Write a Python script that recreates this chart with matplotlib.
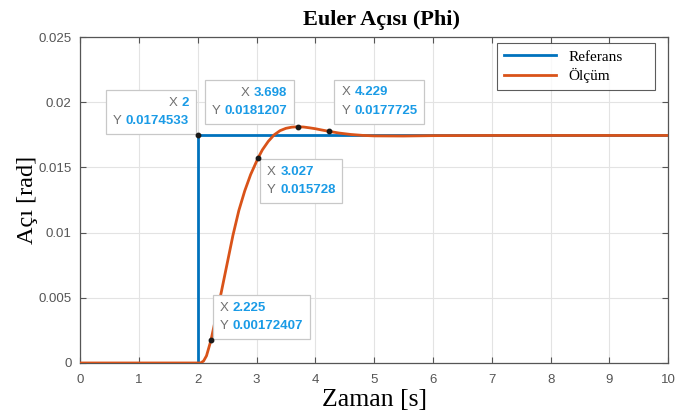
import matplotlib
matplotlib.use("Agg")
import matplotlib.pyplot as plt
from matplotlib.offsetbox import TextArea, HPacker, VPacker, AnnotationBbox

# reference step
t_ref = [0, 2, 2, 10]
y_ref = [0, 0, 0.0174533, 0.0174533]

t_mea = [0, 2.0, 2.05, 2.1, 2.15, 2.225, 2.3, 2.4, 2.5, 2.6, 2.7, 2.8, 2.9, 3.027,
         3.1, 3.2, 3.3, 3.4, 3.5, 3.6, 3.698, 3.8, 3.9, 4.0, 4.1, 4.229, 4.4,
         4.6, 4.8, 5.0, 5.5, 6.0, 7.0, 10.0]
y_mea = [0, 0, 0.0, 0.00015, 0.00055, 0.00172407, 0.0033, 0.0054, 0.0076, 0.0098,
         0.0117, 0.0132, 0.01445, 0.015728, 0.01635, 0.0170, 0.0175, 0.01782, 0.01800,
         0.01809, 0.0181207, 0.01810, 0.01804, 0.01797, 0.01788, 0.0177725, 0.01764,
         0.01753, 0.01746, 0.01742, 0.01741, 0.01744, 0.017453, 0.017453]

# data tips: x, y, "X" value text, "Y" value text, box corner, offset (points), text align
tips = [
    (2.0, 0.0174533, "2", "0.0174533", (1, 0), (-1.5, 0.8), "right"),
    (3.698, 0.0181207, "3.698", "0.0181207", (1, 0), (-2.5, 2.2), "right"),
    (4.229, 0.0177725, "4.229", "0.0177725", (0, 0), (4.0, 5.5), "left"),
    (3.027, 0.015728, "3.027", "0.015728", (0, 1), (1.5, -0.8), "left"),
    (2.225, 0.00172407, "2.225", "0.00172407", (0, 0), (1.5, 0.8), "left"),
]

blue = "#0072BD"
orange = "#D95319"
tipblue = "#1A9BE6"

fig = plt.figure(figsize=(6.84, 4.12), dpi=100)
ax = fig.add_axes([0.117, 0.119, 0.860, 0.791])

ax.plot(t_ref, y_ref, color=blue, lw=2.0, label="Referans", zorder=3)
ax.plot(t_mea, y_mea, color=orange, lw=2.0, label="Ölçüm", zorder=3)

ax.set_xlim(0, 10)
ax.set_ylim(0, 0.025)
ax.set_xticks(range(0, 11))
ax.set_yticks([0, 0.005, 0.01, 0.015, 0.02, 0.025])
ax.set_yticklabels(["0", "0.005", "0.01", "0.015", "0.02", "0.025"])
ax.grid(True, color="#e3e3e3", lw=0.8)
ax.set_axisbelow(True)
ax.tick_params(direction="in", top=True, right=True, length=4, width=0.8,
               colors="#555555", labelsize=9.5, labelfontfamily="Liberation Sans")
ax.tick_params(axis="x", pad=8)
ax.tick_params(axis="y", pad=6)
for sp in ax.spines.values():
    sp.set_color("#555555")
    sp.set_linewidth(0.9)

ax.set_title("Euler Açısı (Phi)", fontfamily="Liberation Serif", fontweight="bold",
             fontsize=16, pad=9, x=0.513)
ax.set_xlabel("Zaman [s]", fontfamily="Liberation Serif", fontsize=18.5, labelpad=2)
ax.set_ylabel("Açı [rad]", fontfamily="Liberation Serif", fontsize=17.5, labelpad=0)

leg = ax.legend(loc="upper left", bbox_to_anchor=(0.709, 0.844, 0.269, 0.138),
                mode="expand", frameon=True, fancybox=False,
                prop={"family": "Liberation Serif", "size": 11},
                handlelength=3.4, handletextpad=0.8, borderpad=0.45,
                labelspacing=0.3, borderaxespad=0)
leg.get_frame().set_edgecolor("#333333")
leg.get_frame().set_linewidth(0.8)

for x, y, xs, ys, corner, off, align in tips:
    ax.plot([x], [y], "o", color="#1a1a1a", ms=3.2, zorder=6)
    lines = []
    for lab, val in (("X", xs), ("Y", ys)):
        a = TextArea(lab, textprops=dict(color="#707070", fontsize=9.5,
                                         fontfamily="Liberation Sans"))
        b = TextArea(val, textprops=dict(color=tipblue, fontsize=9.5, fontweight="bold",
                                         fontfamily="Liberation Sans"))
        lines.append(HPacker(children=[a, b], pad=0, sep=3, align="baseline"))
    box = VPacker(children=lines, pad=5, sep=4.5, align=align)
    ab = AnnotationBbox(box, (x, y), xybox=off, xycoords="data",
                        boxcoords="offset points", box_alignment=corner,
                        frameon=True, pad=0,
                        bboxprops=dict(edgecolor="#c8c8c8", facecolor="white", lw=0.9))
    ab.set_zorder(5)
    ax.add_artist(ab)

fig.savefig("out.png", dpi=100)
